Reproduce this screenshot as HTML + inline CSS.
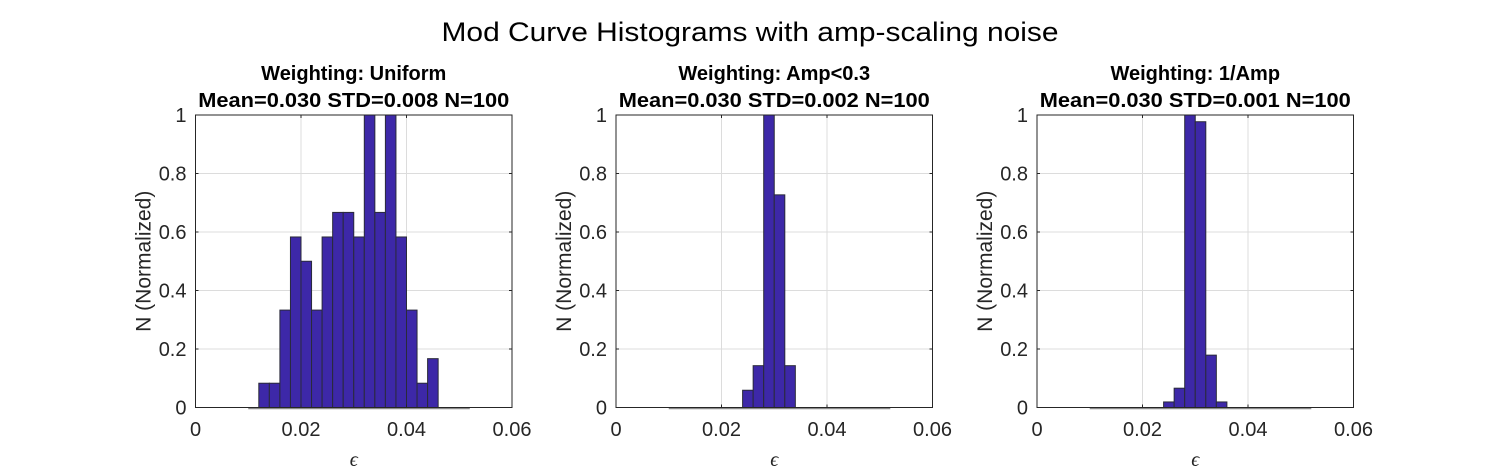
<!DOCTYPE html>
<html><head><meta charset="utf-8"><style>
body{margin:0;background:#fff;}
svg{display:block;font-family:"Liberation Sans",Arial,sans-serif;}
</style></head><body>
<svg id="fig" width="1500" height="469" xmlns="http://www.w3.org/2000/svg">
<rect width="1500" height="469" fill="#fff"/>
<text x="750" y="41" font-size="27" text-anchor="middle" textLength="617" lengthAdjust="spacingAndGlyphs" fill="#000">Mod Curve Histograms with amp-scaling noise</text>
</svg>
<script>
const titles = ["Weighting: Uniform","Weighting: Amp<0.3","Weighting: 1/Amp"];
const stats = ["Mean=0.030 STD=0.008 N=100","Mean=0.030 STD=0.002 N=100","Mean=0.030 STD=0.001 N=100"];
const binStarts = [0.012, 0.024, 0.024];
const binWidth = 0.002;
const vals1 = [0.083,0.083,0.333,0.583,0.5,0.333,0.583,0.667,0.667,0.583,1,0.667,1,0.583,0.333,0.083,0.167];
const vals2 = [0.059,0.143,1,0.727,0.143];
const vals3 = [0.019,0.066,1,0.977,0.179,0.019];
const xTicks = [0,0.02,0.04,0.06];
const xTickLabels = ["0","0.02","0.04","0.06"];
const yTicks = [0,0.2,0.4,0.6,0.8,1];
const yTickLabels = ["0","0.2","0.4","0.6","0.8","1"];
const rangeMin = 0.010, rangeMax = 0.052;
const series = [vals1, vals2, vals3];

const NS = "http://www.w3.org/2000/svg";
const svg = document.getElementById('fig');
const axLefts = [195.5, 616, 1037];
const axW = 316.5, axTop = 115, axBot = 407.5;
function mk(tag, attrs, parent){const e=document.createElementNS(NS,tag);for(const k in attrs)e.setAttribute(k,attrs[k]);(parent||svg).appendChild(e);return e;}

series.forEach((vals, p) => {
  const L = axLefts[p];
  const g = mk('g', {});
  
  
  const xs = v => L + v / 0.06 * axW;
  const ys = v => axBot - v * (axBot - axTop);
  xTicks.forEach(t => { if (t>0 && t<0.06) { const l = mk('line',{x1:xs(t),x2:xs(t),y1:axTop,y2:axBot,stroke:'#dcdcdc','stroke-width':1},g);   }});
  yTicks.forEach(t => { if (t>0 && t<1) { const l = mk('line',{x1:L,x2:L+axW,y1:ys(t),y2:ys(t),stroke:'#dcdcdc','stroke-width':1},g);   }});
  const bl = mk('line',{x1:xs(rangeMin),x2:xs(rangeMax),y1:axBot+1,y2:axBot+1,stroke:'#8a8a8a','stroke-width':1.5},g);
  
  
  vals.forEach((v, i) => {
    const x0 = xs(binStarts[p] + i*binWidth), x1 = xs(binStarts[p] + (i+1)*binWidth);
    const r = mk('rect',{x:x0,y:ys(v),width:x1-x0,height:axBot-ys(v),fill:'#3d28a8',stroke:'#2a2a3a','stroke-width':1},g);
    
    
  });
  const box = mk('rect',{x:L,y:axTop,width:axW,height:axBot-axTop,fill:'none',stroke:'#262626','stroke-width':1},g);
  
  
  xTicks.forEach((t,i) => {
    mk('line',{x1:xs(t),x2:xs(t),y1:axBot,y2:axBot-3,stroke:'#262626'},g);
    mk('line',{x1:xs(t),x2:xs(t),y1:axTop,y2:axTop+3,stroke:'#262626'},g);
    const tx = mk('text',{x:xs(t),y:436,'font-size':20,'text-anchor':'middle',fill:'#262626'},g);
    tx.textContent = xTickLabels[i];
    
    
  });
  yTicks.forEach((t,i) => {
    mk('line',{x1:L,x2:L+3,y1:ys(t),y2:ys(t),stroke:'#262626'},g);
    mk('line',{x1:L+axW,x2:L+axW-3,y1:ys(t),y2:ys(t),stroke:'#262626'},g);
    const tx = mk('text',{x:L-9,y:ys(t)+7,'font-size':20,'text-anchor':'end',fill:'#262626'},g);
    tx.textContent = yTickLabels[i];
    
    
  });
  const cx = L + axW/2;
  const t1 = mk('text',{x:cx,y:80,'font-size':20,'font-weight':'bold','text-anchor':'middle',fill:'#000'},g);
  t1.textContent = titles[p];
  
  
  const t2 = mk('text',{x:cx,y:107,'font-size':20,'font-weight':'bold','text-anchor':'middle',fill:'#000',textLength:311,lengthAdjust:'spacingAndGlyphs'},g);
  t2.textContent = stats[p];
  
  
  const yl = mk('text',{x:0,y:0,'font-size':21,'text-anchor':'middle',fill:'#262626',transform:`translate(${L-45},${(axTop+axBot)/2}) rotate(-90)`},g);
  yl.textContent = 'N (Normalized)';
  
  
  const xl = mk('text',{x:cx,y:466,'font-size':20,'font-style':'italic','font-family':'"Liberation Serif",serif','text-anchor':'middle',fill:'#262626'},g);
  xl.textContent = 'ϵ';
  
  
});
</script>
</body></html>
